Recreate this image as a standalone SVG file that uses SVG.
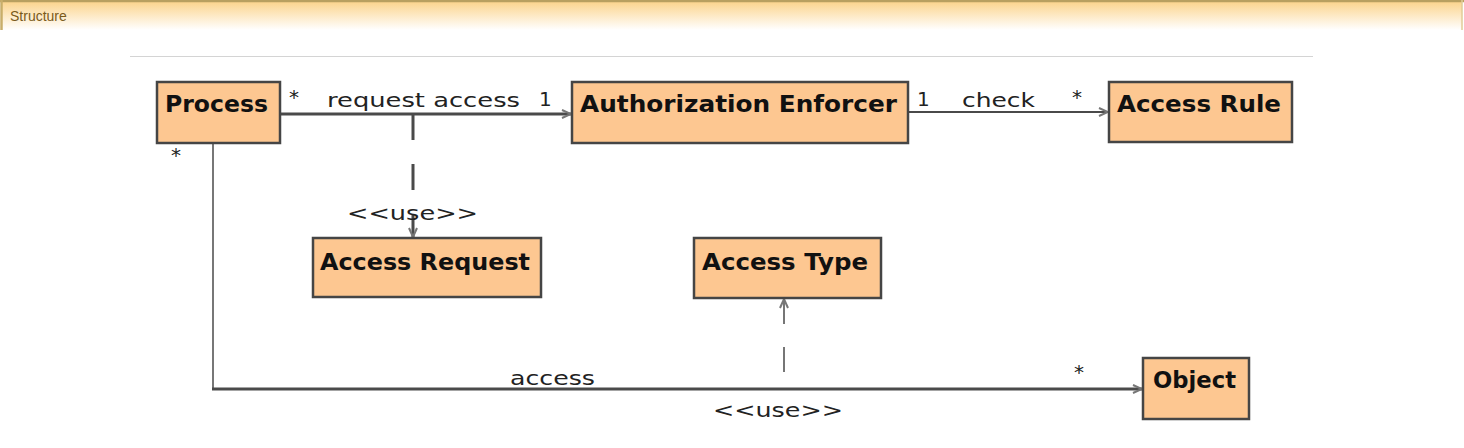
<svg xmlns="http://www.w3.org/2000/svg" width="1464" height="448" viewBox="0 0 1464 448">
<defs>
<linearGradient id="hdr" x1="0" y1="0" x2="0" y2="1">
<stop offset="0" stop-color="#fbd38a"/>
<stop offset="1" stop-color="#ffffff"/>
</linearGradient>
<marker id="arr" viewBox="0 0 10 10" refX="10" refY="5" markerWidth="10" markerHeight="10" markerUnits="userSpaceOnUse" orient="auto-start-reverse">
<path d="M1,1 L10,5 L1,9" fill="none" stroke="#777" stroke-width="2"/>
</marker>
<style>
.box{fill:#fdc791;stroke:#454545;stroke-width:2.5}
.nl{font-family:"DejaVu Sans","Liberation Sans",sans-serif;font-weight:bold;font-size:23px;fill:#111}
.cl{font-family:"DejaVu Sans","Liberation Sans",sans-serif;font-size:20px;fill:#222}
.st{font-family:"DejaVu Sans","Liberation Sans",sans-serif;font-size:19px;fill:#222}
.ln{fill:none;stroke:#4a4a4a}
</style>
</defs>
<rect width="1464" height="448" fill="#fff"/>
<g id="header">
<rect x="1" y="1" width="1461" height="29" fill="url(#hdr)"/>
<line x1="0" y1="1" x2="1464" y2="1" stroke="#b8a060" stroke-width="2.5"/>
<line x1="1.5" y1="0" x2="1.5" y2="30" stroke="#c8ae6a" stroke-width="2.5"/>
<line x1="1462" y1="0" x2="1462" y2="30" stroke="#e0cc98" stroke-width="1.5"/>
<text x="10" y="21" font-family="Liberation Sans, Arial, sans-serif" font-size="14" fill="#7a5a1a">Structure</text>
</g>
<line x1="130" y1="56.5" x2="1313" y2="56.5" stroke="#d4d4d4" stroke-width="1.2"/>
<g id="connectors">
<path class="ln" d="M281,114 L571,114" stroke-width="3" marker-end="url(#arr)"/>
<path class="ln" d="M908,112 L1108,112" stroke-width="2" stroke="#6a6a6a" marker-end="url(#arr)"/>
<path class="ln" d="M413,114 L413,237" stroke-width="3" stroke-dasharray="26 24" marker-end="url(#arr)"/>
<path class="ln" d="M213,143 L213,389" stroke-width="1.5"/>
<path class="ln" d="M212,389 L1142,389" stroke-width="3" marker-end="url(#arr)"/>
<path class="ln" d="M784,299 L784,389" stroke-width="1.5" stroke-dasharray="25 23" marker-start="url(#arr)"/>
<text class="cl" x="289" y="104" font-size="17">*</text>
<text class="cl" x="327" y="107" textLength="193" lengthAdjust="spacingAndGlyphs">request access</text>
<text class="cl" x="539" y="106">1</text>
<text class="cl" x="917" y="106">1</text>
<text class="cl" x="962" y="107" textLength="73" lengthAdjust="spacingAndGlyphs">check</text>
<text class="cl" x="1072" y="104" font-size="17">*</text>
<text class="cl" x="171" y="162" font-size="17">*</text>
<text class="st" x="347" y="220" textLength="131" lengthAdjust="spacingAndGlyphs">&lt;&lt;use&gt;&gt;</text>
<text class="cl" x="510" y="385" textLength="85" lengthAdjust="spacingAndGlyphs">access</text>
<text class="cl" x="1074" y="379" font-size="17">*</text>
<text class="st" x="713" y="417" textLength="130" lengthAdjust="spacingAndGlyphs">&lt;&lt;use&gt;&gt;</text>
</g>
<g id="process">
<rect class="box" x="157" y="82" width="123" height="61"/>
<text class="nl" x="165" y="112" textLength="103" lengthAdjust="spacingAndGlyphs">Process</text>
</g>
<g id="authorization-enforcer">
<rect class="box" x="572" y="82" width="336" height="61"/>
<text class="nl" x="580" y="112" textLength="317" lengthAdjust="spacingAndGlyphs">Authorization Enforcer</text>
</g>
<g id="access-rule">
<rect class="box" x="1109" y="82" width="183" height="60"/>
<text class="nl" x="1117" y="112" textLength="164" lengthAdjust="spacingAndGlyphs">Access Rule</text>
</g>
<g id="access-request">
<rect class="box" x="313" y="238" width="228" height="59"/>
<text class="nl" x="320" y="270" textLength="210" lengthAdjust="spacingAndGlyphs">Access Request</text>
</g>
<g id="access-type">
<rect class="box" x="694" y="238" width="187" height="60"/>
<text class="nl" x="702" y="270" textLength="166" lengthAdjust="spacingAndGlyphs">Access Type</text>
</g>
<g id="object">
<rect class="box" x="1143" y="358" width="106" height="61"/>
<text class="nl" x="1153" y="388" textLength="83" lengthAdjust="spacingAndGlyphs">Object</text>
</g>
</svg>
